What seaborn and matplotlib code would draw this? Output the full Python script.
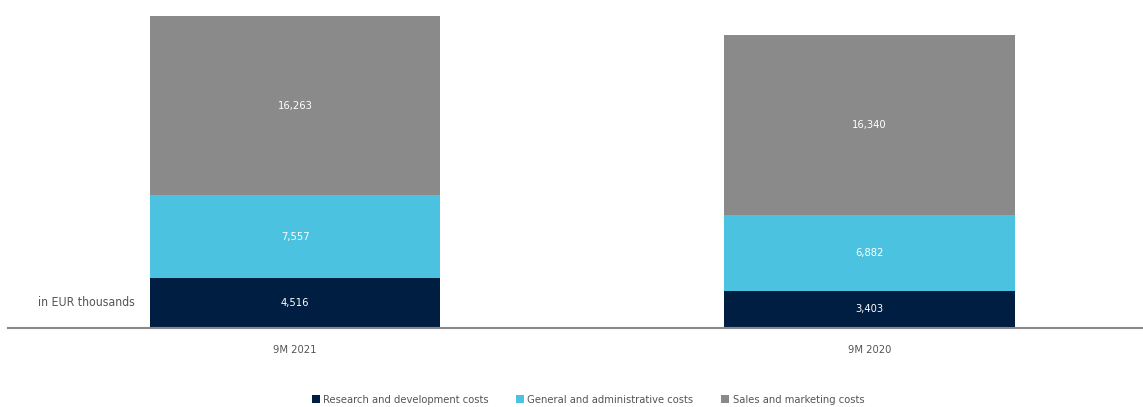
import matplotlib
matplotlib.use("Agg")
import matplotlib.pyplot as plt
import seaborn as sns
import pandas as pd
import numpy as np
from matplotlib.patches import Patch

categories = ["9M 2021", "9M 2020"]
rd_costs = [4516, 3403]
ga_costs = [7557, 6882]
sm_costs = [16263, 16340]
series_names = ["Research and development costs", "General and administrative costs", "Sales and marketing costs"]
colors = ["#001E41", "#4BC3E0", "#8A8A8A"]

sns.set_theme(style="white")
import matplotlib.font_manager as fm
avail = {f.name for f in fm.fontManager.ttflist}
fam = "Liberation Sans Narrow" if "Liberation Sans Narrow" in avail else "DejaVu Sans"
plt.rcParams["font.family"] = [fam, "DejaVu Sans"]
plt.rcParams["font.stretch"] = "condensed"

fig = plt.figure(figsize=(11.43, 4.07), dpi=100)
ax = fig.add_axes([8/1143, 79/407, 1 - 8/1143, 1 - 79/407])

layers = [rd_costs, ga_costs, sm_costs]
cum = np.cumsum(np.array(layers), axis=0)
for i in reversed(range(3)):
    df = pd.DataFrame({"cat": categories, "val": cum[i]})
    sns.barplot(data=df, x="cat", y="val", color=colors[i], width=0.505,
                saturation=1, ax=ax, edgecolor="none", linewidth=0, zorder=2)

bottoms = np.vstack([np.zeros(2), cum[:-1]])
for i in range(3):
    for j in range(2):
        ax.text(j, bottoms[i][j] + layers[i][j] / 2, f"{layers[i][j]:,}",
                ha="center", va="center", color="white", fontsize=8, zorder=5)

ax.set_xlim(-0.4996, 1.476)
ax.set_ylim(0, 28336 + 16 / (312 / 28336))
ax.set_xlabel("")
ax.set_ylabel("")
ax.set_yticks([])
ax.tick_params(axis="x", length=0, pad=12, labelsize=8, labelcolor="#555555")
for s in ["top", "right", "left"]:
    ax.spines[s].set_visible(False)
ax.spines["bottom"].set_color("#888888")
ax.spines["bottom"].set_linewidth(1.5)

fig.text(135/1143, 1 - 302/407, "in EUR thousands", ha="right", va="center",
         fontsize=8.8, color="#555555")

handles = [Patch(facecolor=c, edgecolor="none") for c in colors]
fig.legend(handles, series_names, loc="center", bbox_to_anchor=(588/1143, 1 - 400/407),
           ncol=3, frameon=False, fontsize=8, handlelength=0.7, handleheight=0.7,
           handletextpad=0.3, columnspacing=2.5, labelcolor="#555555")

fig.savefig("out.png", dpi=100)
